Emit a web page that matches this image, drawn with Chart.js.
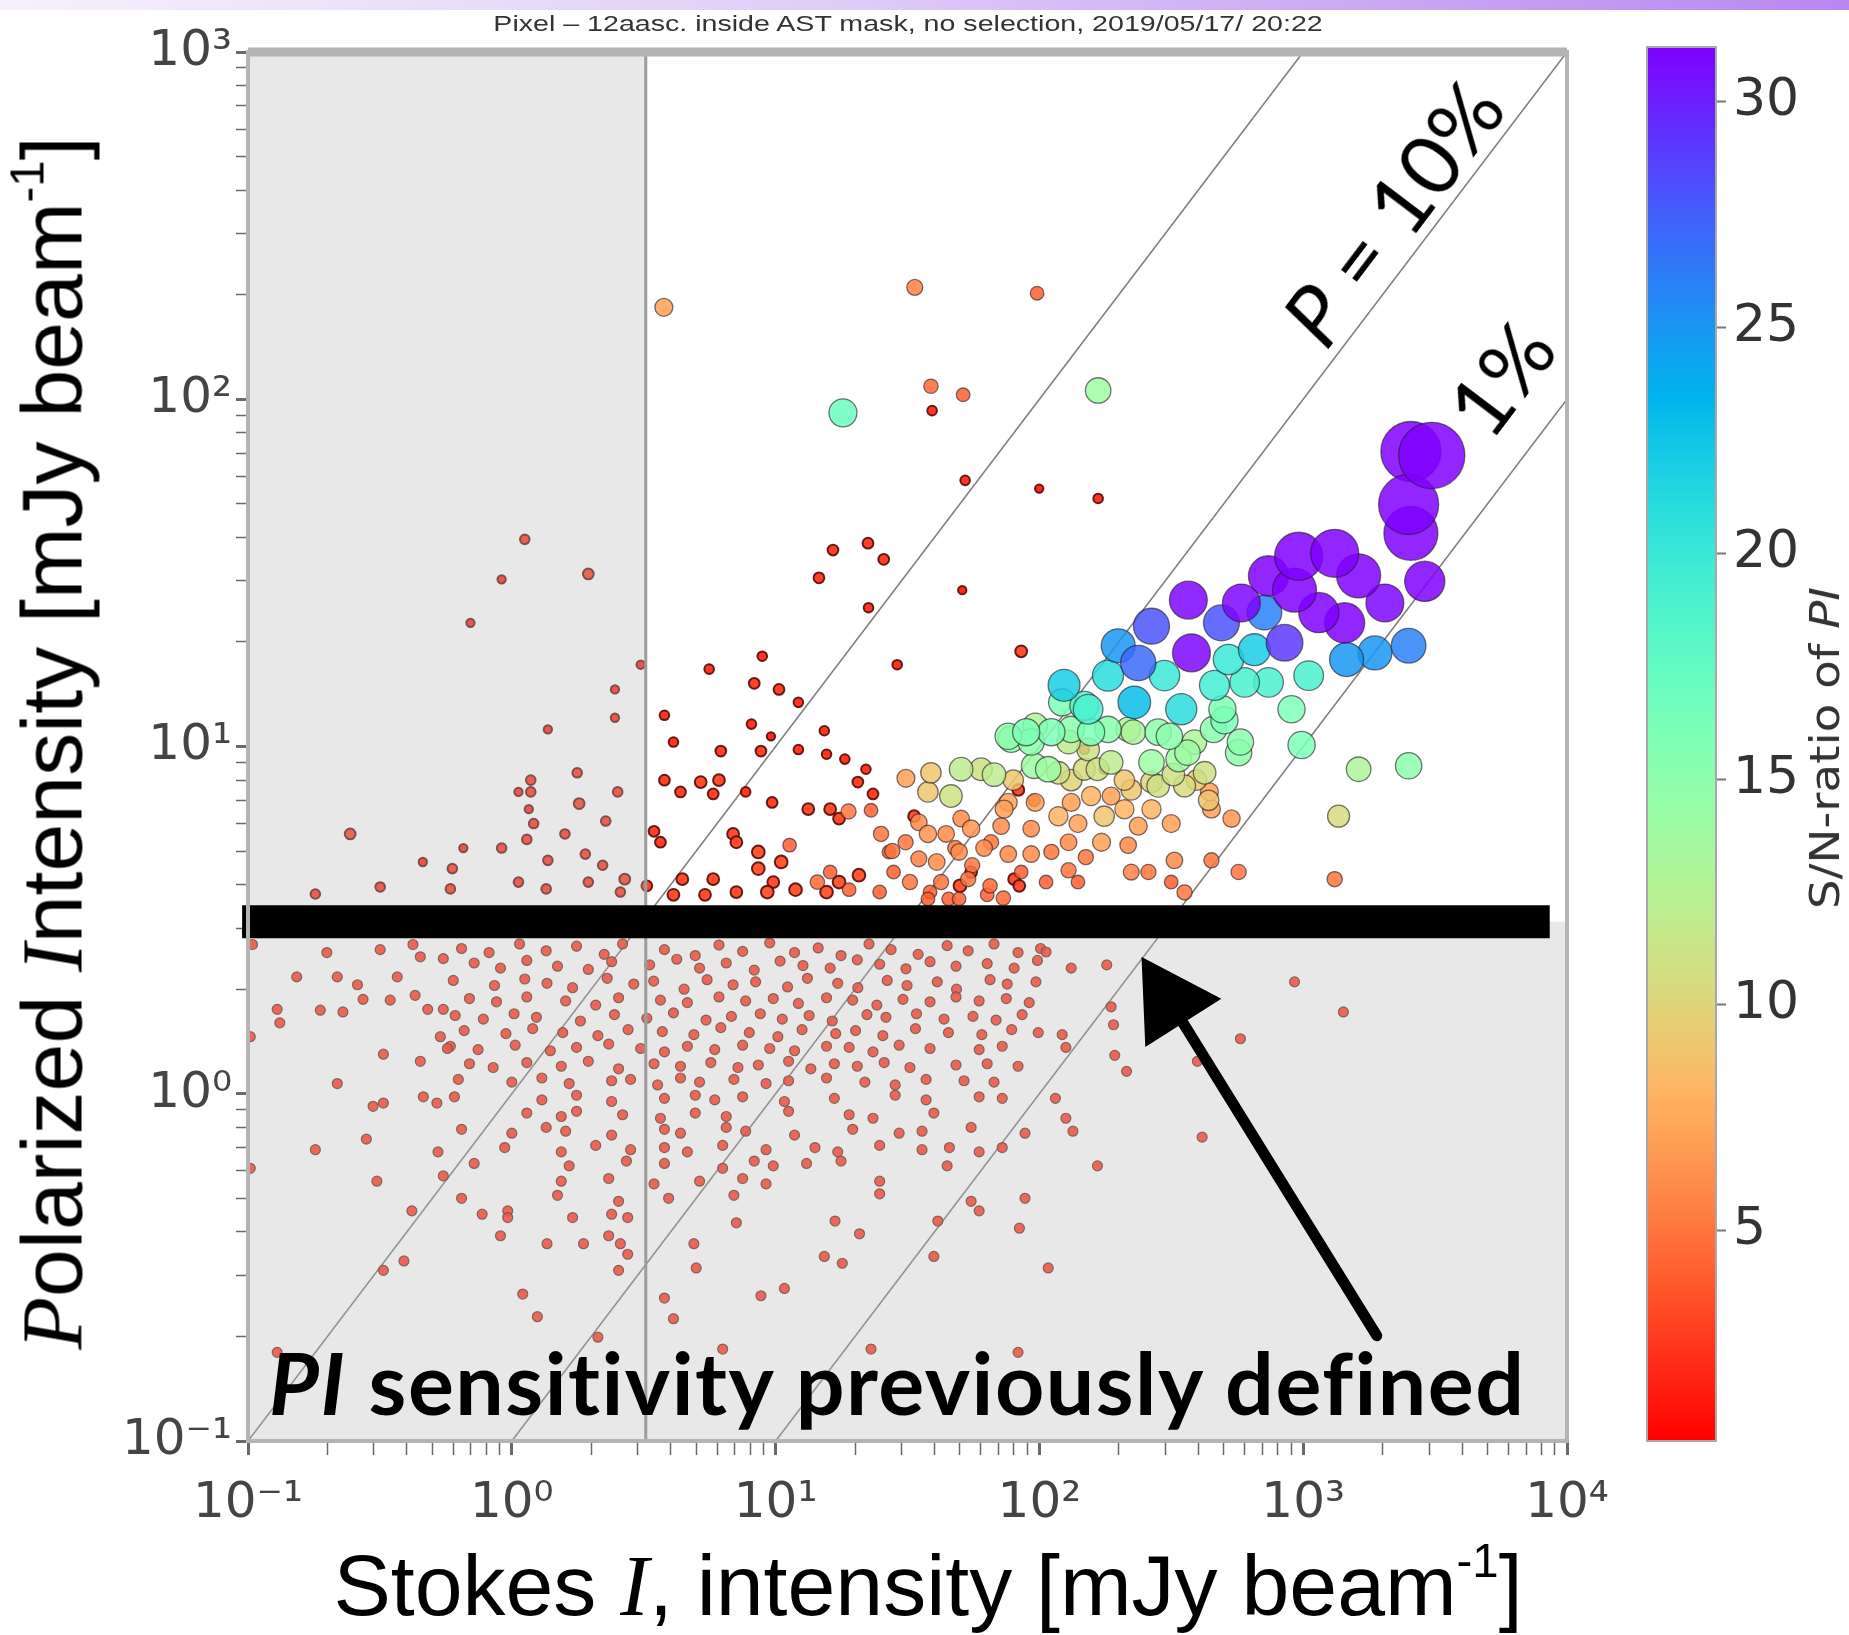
<!DOCTYPE html>
<html>
<head>
<meta charset="utf-8">
<title>Polarized intensity vs Stokes I</title>
<script src="https://cdn.jsdelivr.net/npm/chart.js@4.4.1/dist/chart.umd.min.js"></script>
<style>
  html, body { margin: 0; padding: 0; background: #fff; }
  body { width: 1849px; height: 1635px; position: relative; overflow: hidden; font-family: 'Liberation Sans', Arial, sans-serif; }
  .topbar { position: absolute; left: 0; top: 0; width: 1849px; height: 10px;
            background: linear-gradient(90deg, #f6f1fc 0%, #dfcdf7 45%, #b987f1 100%); }
  #main { position: absolute; left: 0; top: 0; width: 1619px; height: 1545px; }
  #cbar { position: absolute; left: 1600px; top: 0; width: 249px; height: 1545px; }
  .lbl { position: absolute; white-space: nowrap; line-height: 1; color: #000; }
  .serif { font-family: 'Liberation Serif', 'Times New Roman', serif; font-style: italic; }
  sup { font-size: 0.55em; vertical-align: 0.8em; line-height: 0; }
  #title { left: 908px; top: 24px; font-size: 22px; color: #333; transform: translate(-50%, -50%) scaleX(1.3); }
  #ytitle { left: 52px; top: 743px; font-size: 86px; transform: translate(-50%, -50%) rotate(-90deg); }
  #xtitle { left: 928px; top: 1585px; font-size: 86px; transform: translate(-50%, -50%); }
  #cbtitle { left: 1825px; top: 748px; font-size: 40px; color: #333; font-family: 'DejaVu Sans', sans-serif;
             transform: translate(-50%, -50%) rotate(-90deg) scaleX(1.17); }
  .pct { font-family: Lato, 'Noto Sans', sans-serif; font-weight: 400; font-size: 84px;
         transform: translate(-50%, -50%) rotate(-52.9deg); }
  #p10 { left: 1392px; top: 212px; }
  #p1 { left: 1500px; top: 378px; }
  #note { left: 269px; top: 1339px; font-family: Lato, 'Noto Sans', sans-serif; font-weight: 700; font-size: 86px; letter-spacing: 1.5px; }
</style>
</head>
<body>
<div class="topbar"></div>
<div id="main"><canvas id="scatterChart"></canvas></div>
<div id="cbar"><canvas id="colorBar"></canvas></div>

<div class="lbl" id="title">Pixel – 12aasc. inside AST mask, no selection, 2019/05/17/ 20:22</div>
<div class="lbl" id="ytitle"><span class="serif">P</span>olarized <span class="serif">I</span>ntensity [mJy beam<sup>-1</sup>]</div>
<div class="lbl" id="xtitle">Stokes <span class="serif">I</span>, intensity [mJy beam<sup>-1</sup>]</div>
<div class="lbl" id="cbtitle">S/N-ratio of <i>PI</i></div>
<div class="lbl pct" id="p10"><i>P</i> = 10%</div>
<div class="lbl pct" id="p1">1%</div>
<div class="lbl" id="note"><i>PI</i> sensitivity previously defined</div>

<script>
// axes
var decades = [0.1, 1, 10, 100, 1000, 10000];
var decadeLabels = ['10\u207B\u00B9', '10\u2070', '10\u00B9', '10\u00B2', '10\u00B3', '10\u2074'];
var cbTicks = [5, 10, 15, 20, 25, 30];
var snMin = 0.35, snMax = 31.2;
var cutI = 3.22, cutPI = 3.13;      // grey "no selection" limits
var pLines = [1, 0.1, 0.01];        // lines of constant P

// bright cluster (I, PI in mJy/beam, S/N of PI)
var clusterI = [3070, 2560, 2510, 2560, 2890, 2510, 1870, 1460, 2040, 1435, 1146, 961, 1316, 1622, 927, 739, 850, 713, 583, 490, 367, 266, 377, 199, 237,
  124, 182, 229, 298, 345, 461, 521, 653, 739, 1049, 903, 986, 600,
  148, 157, 182, 78.2, 93.1, 111, 129, 217, 282, 387, 503, 569, 337, 266, 1622, 2510, 1362, 50.5, 67.3, 95.5, 118, 148, 187, 223, 282, 355, 438, 423, 46.2,
  83.2, 95.5, 148, 176,
  76.2, 118, 157, 140, 176, 210, 266, 237, 316, 535, 449, 217, 172, 129, 93.1, 71.6, 55.1, 48, 61.7, 76.2, 93.1, 129, 223, 259, 325, 449, 569, 1316, 355, 140, 80.2, 55.1];
var clusterPI = [68.9, 70.7, 49.8, 41.1, 29.9, 19.5, 18.6, 17.8, 25.9, 22.7, 24.3, 35.3, 36.0, 31.0, 28.2, 31.0, 19.9, 24.3, 25.9, 22.7, 26.4, 22.2, 18.6, 19.5, 17.4,
  15.0, 16.0, 13.4, 16.0, 12.8, 15.0, 17.8, 19.0, 15.3, 16.0, 12.8, 10.1, 15.3,
  13.1, 11.0, 11.2, 10.5, 10.3, 11.0, 10.3, 11.2, 11.0, 10.3, 11.9, 9.6, 9.2, 9.0, 8.6, 8.8, 6.3, 8.6, 8.3, 8.8, 8.4, 8.6, 9.0, 7.5, 7.7, 7.7, 7.0, 8.4, 7.2,
  7.5, 7.0, 9.8, 8.6,
  6.9, 6.3, 7.2, 6.0, 6.3, 6.6, 6.6, 5.9, 6.0, 6.2, 6.6, 5.2, 5.3, 5.3, 5.8, 5.9, 5.8, 5.1, 5.1, 4.9, 4.9, 4.4, 4.35, 4.35, 4.7, 4.7, 4.35, 4.15, 3.8, 4.07, 4.15, 4.35];
var clusterSN = [95, 78, 78, 63, 35, 26, 25, 25, 31, 35, 35, 50, 50, 42, 42, 35, 29, 26, 31, 28, 31, 28, 31, 25, 27,
  22, 21, 23, 20, 21, 19.5, 20, 22, 19, 19, 16, 16, 19,
  18, 16, 15, 15, 15, 16, 12, 13, 15, 13, 16, 15, 14, 14, 13, 15, 10.5, 12, 12, 14, 11, 10.5, 12, 9, 11, 10.5, 9, 11, 11,
  3, 3, 2, 2,
  7, 8, 8, 7, 9, 8, 8, 7, 7, 6.5, 7, 6, 7, 6, 6, 6, 6.5, 5, 6, 6, 6, 5, 5.5, 5, 6, 5, 5, 5, 5, 4, 3, 3];

// more of the green / yellow / orange part of the cluster
var cluster2I = [76.2, 89.1, 132, 153, 227, 311, 364, 457, 494, 578, 153, 122, 96.4,
  60.1, 79.6, 108, 132, 166, 210, 266, 322, 394, 441, 187, 132, 96.4, 73.5,
  25.1, 50.5, 65.6, 85.3, 106, 111, 150, 316];
var cluster2PI = [10.7, 11.0, 11.2, 9.8, 11.0, 10.7, 9.6, 11.2, 12.8, 10.3, 12.8, 13.4, 11.5,
  8.6, 8.0, 8.6, 8.0, 8.6, 8.0, 7.9, 8.3, 8.0, 7.4, 7.2, 6.9, 6.9, 6.6,
  5.6, 6.2, 5.3, 4.35, 4.07, 4.97, 4.8, 4.07];
var cluster2SN = [15, 16, 15, 11, 13, 15, 14, 15, 16, 15, 19, 16, 13,
  11, 9, 14, 10, 11, 9, 10, 11, 9, 7, 7, 7, 7, 7,
  5, 6, 5, 4, 4, 5, 5, 4];

// isolated sources high up
var upperI = [3.77, 33.7, 98, 18.0, 167, 38.8, 51.4, 39.2];
var upperPI = [184, 210, 202, 91.4, 106, 109, 103, 92.7];
var upperSN = [7, 5.5, 4, 17, 14, 4.5, 4, 2];

// faint sources above the cut
var faintI = [52.3, 99.8, 167, 51, 85.3, 16.5, 22.4, 25.7, 14.6, 22.5, 28.9,
  3.79, 4.1, 5.6, 6.2, 8.9, 8.3, 10.3, 12.2, 8.8, 12.2, 15.3, 15.6, 18.3, 20.5, 22.0,
  3.79, 4.36, 5.2, 6.1, 5.8, 7.7, 9.7, 13.3, 16.1, 18.9, 23.0,
  8.1, 9.6, 23.4, 17.4];
var faintPI = [58.4, 55.3, 51.8, 28.2, 18.8, 36.8, 38.5, 34.6, 30.6, 25.1, 17.2,
  12.3, 10.3, 16.7, 9.7, 18.2, 15.2, 14.6, 13.4, 9.7, 9.8, 11.1, 9.5, 9.2, 7.9, 8.6,
  8.0, 7.4, 7.9, 8.0, 7.3, 7.4, 6.9, 6.6, 6.6, 6.5, 6.55,
  11.6, 10.7, 7.3, 6.2];
var faintSN = [2, 1.5, 2, 1.5, 3, 2.5, 2.5, 2.5, 2.5, 2, 2,
  2, 2, 2, 2.5, 2, 2.5, 2.5, 2, 2.5, 2, 2, 2, 2, 2.5, 2,
  2.5, 2.5, 3, 3, 2.5, 2, 2.5, 3, 3, 5, 4,
  2, 1.5, 2.5, 3];

// sources just above the cut
var nearI = [3.46, 3.66, 4.43, 5.8, 6.9, 7.1, 8.6, 8.6, 11.3, 10.5, 16.1, 14.4, 20.7, 26.9, 28.0, 4.1, 5.4, 7.1, 9.3, 11.9, 15.6, 19.0, 24.8,
  9.8, 17.4, 32.3, 38.5, 50.0, 83.9, 45.3, 63.4,
  34.9, 37.8, 31.1, 44.3, 34.9, 40.8, 49.6, 55.6, 42.4, 53.7, 65.0, 37.8, 49.6, 33.5, 37.8, 27.7, 73, 31.2, 38.8];
var nearPI = [5.7, 5.3, 4.15, 4.15, 5.6, 5.3, 4.97, 4.45, 5.2, 4.65, 4.35, 4.07, 4.26, 4.97, 4.35, 3.74, 3.74, 3.81, 3.81, 3.87, 3.81, 3.87, 3.81,
  4.07, 4.07, 4.07, 3.81, 3.97, 3.97, 3.64, 3.74,
  6.05, 5.6, 5.3, 5.6, 4.75, 4.65, 4.97, 4.55, 4.07, 4.15, 3.97, 3.64, 3.64, 6.3, 7.4, 5.0, 3.66, 8.1, 8.4];
var nearSN = [2.5, 2.5, 3, 3, 3, 3, 3.5, 3.5, 4, 3.5, 4, 4.5, 3.5, 4, 4, 3, 3, 3, 3.5, 3.5, 3.5, 4, 4,
  3, 3.5, 5, 4, 3.5, 3, 4, 4,
  6, 6.5, 5, 6, 5.5, 6, 6, 5, 5, 5, 4.5, 4, 4, 3, 9, 5, 4.5, 7, 9];

// faint sources left of the I cut
var greyI = [1.12, 0.915, 1.95, 0.697, 3.08, 2.46, 2.46, 1.37, 1.18, 1.18, 1.06, 1.77, 1.80, 2.52, 2.27, 1.16, 1.21, 1.59, 1.14, 0.244,
  0.655, 0.915, 0.46, 0.595, 1.37, 1.90, 2.21, 1.06, 1.35, 0.585, 1.95, 0.18, 3.25, 2.68, 2.58, 0.317];
var greyPI = [39.5, 30.3, 31.4, 22.7, 17.2, 14.6, 12.1, 11.2, 8.0, 7.4, 7.4, 8.4, 6.85, 7.4, 6.1, 6.6, 6.0, 5.6, 5.4, 5.6,
  5.1, 5.1, 4.65, 4.45, 4.7, 4.9, 4.55, 4.07, 3.89, 3.89, 4.07, 3.76, 3.97, 4.15, 3.81, 3.94];
var greySN = [2, 1.5, 2.5, 1.5, 1.5, 1.5, 1.5, 1.5, 2, 2, 1.5, 2, 2.5, 2, 2, 1.5, 2, 2, 2, 2.5,
  1.5, 2, 1.5, 2, 2, 2, 2, 2, 2, 2, 2, 2, 2.5, 2.5, 2, 2];

// pixels below the PI cut
var cloudI = [
  0.645, 0.82, 1.07, 1.35, 1.76, 2.24, 2.63, 3.79, 4.96, 6.1, 7.5, 9.5, 11.8, 14.5, 17.7, 22.6, 27.4, 34.7, 44.7, 53.7, 67.3, 83, 101,
  0.72, 0.906, 1.14, 1.49, 1.95, 2.39, 3.33, 4.22, 5.15, 6.5, 8.3, 10.4, 12.7, 16.1, 20.4, 24.8, 31.2, 38.5, 48.3, 63.4, 80.2, 98.3,
  0.6, 0.86, 1.12, 1.36, 1.7, 2.3, 2.9, 3.45, 4.5, 5.5, 6.9, 8.4, 11.1, 13.2, 17.2, 20.5, 26.5, 31.5, 41, 48.5, 65, 75.5, 97,
  0.691, 0.875, 1.14, 1.60, 2.08, 2.54, 3.66, 4.63, 6.1, 7.7, 9.8, 12.2, 15.6, 19.6, 24.2, 30.4, 38.5, 48.3, 59.1, 74.9, 91.5,
  0.61, 0.78, 1.02, 1.24, 1.82, 2.45, 3.25, 4.1, 5.45, 6.8, 8.75, 10.6, 13.4, 16.4, 22.2, 26.2, 34.2, 43.5, 56, 68.5, 86,
  0.66, 0.95, 1.2, 1.56, 2.12, 2.76, 3.72, 4.9, 6.2, 7.95, 10.2, 12.6, 16.9, 20.1, 25.5, 33.9, 45.2, 60.5, 78.5, 99,
  0.585, 0.745, 1.03, 1.40, 1.76, 2.33, 3.08, 3.79, 4.63, 5.88, 7.5, 9.5, 11.8, 15.6, 19.0, 23.4, 29.4, 38.5, 59.1, 72.3,
  0.691, 0.85, 1.14, 1.54, 1.95, 2.54, 3.46, 4.36, 5.68, 7.2, 8.6, 11.2, 13.6, 16.7, 20.4, 25.8, 32.3, 48.3, 63.4, 83,
  0.627, 1.0, 1.30, 1.65, 2.39, 2.82, 3.57, 4.36, 5.15, 6.95, 9.2, 11.2, 15.6, 21.8, 28.4, 37.2, 51.8, 67.3,
  0.606, 1.30, 1.76, 2.39, 3.79, 4.96, 5.88, 7.5, 10.8, 16.7, 28.4, 37.2, 59.1, 72.3,
  1.14, 1.54, 1.76, 2.63, 3.66, 4.96, 6.5, 11.2, 19.0, 23.4, 39.8,
  0.645, 1.0, 1.35, 1.60, 2.39, 3.79, 4.36, 6.5, 7.7, 11.8, 19.6, 29.4, 35.9, 55.1, 88.2,
  0.94, 1.54, 2.08, 2.82, 3.79, 4.63, 6.3, 9.2, 14.1, 17.2, 24.8, 35.9, 45.6, 59.1, 72.3,
  0.72, 1.65, 2.72, 3.79, 6.3, 8.3, 9.8, 13.1, 17.7, 44.7,
  1.54, 2.33, 3.46, 5.15, 7.5, 9.2, 24.8,
  0.645, 1.49, 2.54, 3.93, 6.95, 55.1, 88.2,
  0.772, 0.965, 1.70, 2.39, 59.1];
var cloudPI = [
  2.62, 2.55, 2.7, 2.58, 2.66, 2.52, 2.7, 2.6, 2.5, 2.68, 2.57, 2.72, 2.55, 2.63, 2.5, 2.7, 2.6, 2.52, 2.67, 2.58, 2.7, 2.55, 2.62,
  2.38, 2.3, 2.42, 2.33, 2.28, 2.4, 2.35, 2.44, 2.3, 2.38, 2.27, 2.41, 2.34, 2.3, 2.43, 2.36, 2.29, 2.4, 2.33, 2.37, 2.3, 2.42,
  2.12, 2.05, 2.14, 2.08, 2.02, 2.15, 2.07, 2.11, 2.0, 2.13, 2.06, 2.1, 2.03, 2.15, 2.08, 2.02, 2.12, 2.05, 2.1, 2.0, 2.13, 2.07, 2.1,
  1.88, 1.84, 1.9, 1.85, 1.8, 1.89, 1.86, 1.83, 1.9, 1.85, 1.88, 1.82, 1.89, 1.86, 1.8, 1.87, 1.84, 1.9, 1.85, 1.88, 1.83,
  1.68, 1.64, 1.7, 1.66, 1.62, 1.69, 1.65, 1.71, 1.63, 1.67, 1.7, 1.64, 1.68, 1.62, 1.69, 1.66, 1.7, 1.64, 1.67, 1.63, 1.69,
  1.52, 1.49, 1.54, 1.5, 1.47, 1.53, 1.51, 1.48, 1.55, 1.5, 1.46, 1.53, 1.49, 1.52, 1.47, 1.54, 1.5, 1.48, 1.53, 1.5,
  1.37, 1.34, 1.38, 1.33, 1.36, 1.39, 1.35, 1.32, 1.37, 1.34, 1.38, 1.35, 1.33, 1.37, 1.36, 1.32, 1.38, 1.35, 1.34, 1.37,
  1.22, 1.19, 1.23, 1.2, 1.24, 1.18, 1.22, 1.2, 1.23, 1.19, 1.21, 1.24, 1.18, 1.22, 1.2, 1.23, 1.19, 1.21, 1.22, 1.2,
  1.1, 1.08, 1.11, 1.07, 1.09, 1.1, 1.06, 1.11, 1.08, 1.1, 1.07, 1.09, 1.11, 1.08, 1.06, 1.1, 1.09, 1.08,
  0.98, 0.96, 0.99, 0.95, 0.97, 0.99, 0.96, 0.98, 0.95, 0.97, 0.99, 0.96, 0.98, 0.97,
  0.88, 0.86, 0.89, 0.87, 0.85, 0.88, 0.86, 0.89, 0.87, 0.85, 0.88,
  0.79, 0.77, 0.8, 0.78, 0.76, 0.79, 0.77, 0.8, 0.78, 0.76, 0.79, 0.77, 0.78, 0.8, 0.77,
  0.7, 0.68, 0.71, 0.69, 0.7, 0.68, 0.71, 0.69, 0.7, 0.68, 0.71, 0.69, 0.7, 0.68, 0.7,
  0.63, 0.62, 0.64, 0.63, 0.61, 0.64, 0.62, 0.63, 0.64, 0.62,
  0.56, 0.57, 0.55, 0.56, 0.57, 0.55, 0.56,
  0.5, 0.51, 0.49, 0.5, 0.51, 0.49, 0.5,
  0.45, 0.46, 0.44, 0.45, 0.46];
var cloudLeftI = [0.104, 0.199, 0.153, 0.218, 0.26, 0.368, 0.317, 0.422, 0.45, 0.55,
  0.129, 0.188, 0.229, 0.273, 0.346, 0.43, 0.48, 0.55,
  0.132, 0.536, 0.102, 0.326, 0.45, 0.57,
  0.218, 0.298, 0.326, 0.462, 0.52,
  0.18, 0.281, 0.525, 0.308, 0.55, 0.102, 0.418,
  0.326, 0.39, 0.129];
var cloudLeftPI = [2.69, 2.55, 2.17, 2.17, 2.06, 2.17, 2.6, 2.69, 2.48, 2.45,
  1.75, 1.74, 1.72, 1.87, 1.86, 1.92, 1.75, 1.75,
  1.6, 1.46, 1.46, 1.3, 1.24, 1.35,
  1.07, 0.92, 0.94, 0.98, 0.94,
  0.69, 0.74, 0.68, 0.56, 0.58, 0.61, 0.46,
  0.31, 0.33, 0.18];
var cloudLowI = [0.965, 0.906, 1.87, 2.33, 2.58, 1.36, 2.75, 2.54, 1.1, 1.25, 2.12, 2.75,
  3.79, 4.1, 4.9, 5.0, 6.3, 8.8, 10.8, 15.3, 17.9, 23.0, 24.8, 20.8, 16.8, 7.1];
var cloudLowPI = [0.44, 0.39, 0.37, 0.39, 0.37, 0.37, 0.345, 0.31, 0.265, 0.228, 0.199, 0.44,
  0.258, 0.225, 0.37, 0.315, 0.184, 0.262, 0.275, 0.34, 0.325, 0.184, 0.515, 0.395, 0.43, 0.425];
var cloudRightI = [122, 126, 191, 193, 214, 115, 126, 134, 166, 84, 41.2, 39.8, 108, 83, 397, 578, 414, 1420, 187, 106, 132, 180, 927];
var cloudRightPI = [1.48, 1.36, 1.58, 1.29, 1.16, 0.97, 0.85, 0.78, 0.62, 0.41, 0.43, 0.34, 0.315, 0.18, 1.24, 1.44, 0.75, 1.72, 1.78, 2.56, 2.3, 2.35, 2.1];

// hand-drawn annotation: scribbled cut line and arrow
var bandI = [0.095, 8600];
var arrowI = [1900, 311];
var arrowPI = [0.201, 1.85];

// rainbow_r colour map on S/N
function snColor(sn, alpha) {
  var t = Math.min(1, Math.max(0, (sn - snMin) / (snMax - snMin)));
  var x = 1 - t;
  var r = Math.min(1, Math.abs(2 * x - 0.5));
  var g = Math.sin(Math.PI * x);
  var b = Math.cos(Math.PI * x / 2);
  return 'rgba(' + Math.round(255 * r) + ',' + Math.round(255 * g) + ',' + Math.round(255 * b) + ',' + alpha + ')';
}

function pts(xs, ys, sn) {
  return xs.map(function (x, i) { return {x: x, y: ys[i], sn: sn ? sn[i] : 2}; });
}

var sources = [].concat(
  pts(clusterI, clusterPI, clusterSN), pts(cluster2I, cluster2PI, cluster2SN), pts(upperI, upperPI, upperSN),
  pts(faintI, faintPI, faintSN), pts(nearI, nearPI, nearSN), pts(greyI, greyPI, greySN)
).sort(function (a, b) { return a.sn - b.sn; });
var cloud = [].concat(pts(cloudI, cloudPI), pts(cloudLeftI, cloudLeftPI), pts(cloudLowI, cloudLowPI), pts(cloudRightI, cloudRightPI));

var diagSets = pLines.map(function (p) {
  var xEnd = Math.min(1e4, 1e3 / p);
  return {
    label: 'P=' + p, showLine: true, order: 6,
    data: [{x: 0.1 / p, y: 0.1}, {x: xEnd, y: p * xEnd}],
    borderColor: 'rgba(95,95,95,0.8)', borderWidth: 1.6, pointRadius: 0
  };
});

function logTicks(list) {
  var out = [];
  for (var k = 0; k < list.length; k++) {
    out.push({value: list[k], major: true});
    if (k < list.length - 1) {
      for (var m = 2; m < 10; m++) out.push({value: list[k] * m, major: false});
    }
  }
  return out;
}

var tickFont = {family: "'DejaVu Sans', sans-serif", size: 50};

// grey shading of the unselected area, drawn over the points
var shadePlugin = {
  id: 'shade',
  afterDatasetDraw: function (chart, args) {
    if (chart.data.datasets[args.index].label !== 'sources') return;
    var ctx = chart.ctx, a = chart.chartArea;
    var xc = chart.scales.x.getPixelForValue(cutI);
    var yc = chart.scales.y.getPixelForValue(cutPI);
    ctx.save();
    ctx.fillStyle = 'rgba(186,186,186,0.33)';
    ctx.fillRect(a.left, a.top, xc - a.left, yc - a.top);
    ctx.fillRect(a.left, yc, a.right - a.left, a.bottom - yc);
    ctx.restore();
  }
};

var framePlugin = {
  id: 'frame',
  afterDatasetsDraw: function (chart) {
    var ctx = chart.ctx, a = chart.chartArea;
    ctx.save();
    ctx.strokeStyle = '#b4b4b4';
    ctx.lineWidth = 4;
    ctx.strokeRect(a.left, a.top, a.right - a.left, a.bottom - a.top);
    ctx.lineWidth = 9;
    ctx.beginPath(); ctx.moveTo(a.left, a.top); ctx.lineTo(a.right, a.top); ctx.stroke();
    ctx.restore();
  }
};

new Chart(document.getElementById('scatterChart'), {
  type: 'scatter',
  data: {
    datasets: diagSets.concat([
      {
        label: 'cloud', order: 5, data: cloud,
        pointRadius: 5, pointBackgroundColor: snColor(2, 0.9),
        pointBorderColor: 'rgba(80,30,25,0.8)', pointBorderWidth: 1.2
      },
      {
        label: 'sources', order: 4, data: sources,
        pointRadius: function (c) { return 3.4 * Math.sqrt(c.raw.sn); },
        pointBackgroundColor: function (c) { return snColor(c.raw.sn, c.raw.sn < 4 ? 0.95 : 0.85); },
        pointBorderColor: function (c) { return c.raw.sn < 4 ? 'rgba(90,10,10,0.9)' : 'rgba(35,25,35,0.6)'; },
        pointBorderWidth: function (c) { return c.raw.sn < 4 ? 2 : 1.3; }
      },
      {
        label: 'cutI', order: 3, showLine: true, pointRadius: 0,
        data: [{x: cutI, y: 0.1}, {x: cutI, y: 1000}],
        borderColor: '#9c9c9c', borderWidth: 3
      },
      {
        label: 'band', order: 2, showLine: true, pointRadius: 0, clip: false,
        data: bandI.map(function (x) { return {x: x, y: cutPI}; }),
        borderColor: '#000', borderWidth: 33
      },
      {
        label: 'bandEdge', order: 2, showLine: true, pointRadius: 0, clip: false,
        data: bandI.map(function (x) { return {x: x, y: cutPI / 1.07}; }),
        borderColor: '#000', borderWidth: 6, borderDash: [4, 7]
      },
      {
        label: 'arrow', order: 1, showLine: true, pointRadius: 0,
        data: pts(arrowI, arrowPI),
        borderColor: '#000', borderWidth: 11, borderCapStyle: 'round'
      },
      {
        label: 'arrowhead', order: 0,
        data: [{x: arrowI[1], y: arrowPI[1]}],
        pointStyle: 'triangle', pointRadius: 50, pointRotation: -32.4,
        pointBackgroundColor: '#000', pointBorderColor: '#000', pointBorderWidth: 2
      }
    ])
  },
  options: {
    responsive: true, maintainAspectRatio: false, animation: false, events: [],
    layout: {padding: {left: 0, top: 35, right: 35, bottom: 0}},
    plugins: {legend: {display: false}, tooltip: {enabled: false}},
    scales: {
      x: {
        type: 'logarithmic', position: 'bottom', min: 0.1, max: 10000,
        afterBuildTicks: function (s) { s.ticks = logTicks(decades); },
        afterFit: function (s) { s.height = 104; s.paddingLeft = 0; s.paddingRight = 0; },
        border: {display: false},
        grid: {
          drawOnChartArea: false, tickLength: 14, tickColor: '#6a6a6a',
          tickWidth: function (c) { return c.tick && c.tick.major ? 3 : 1.5; }
        },
        ticks: {
          autoSkip: false, maxRotation: 0, padding: 19, color: '#444', font: tickFont,
          callback: function (v) { var k = decades.indexOf(v); return k >= 0 ? decadeLabels[k] : ''; }
        }
      },
      y: {
        type: 'logarithmic', position: 'left', min: 0.1, max: 1000,
        afterBuildTicks: function (s) { s.ticks = logTicks(decades.slice(0, 5)); },
        afterFit: function (s) { s.width = 248; s.paddingTop = 0; s.paddingBottom = 0; },
        border: {display: false},
        grid: {
          drawOnChartArea: false, tickLength: 12, tickColor: '#6a6a6a',
          tickWidth: function (c) { return c.tick && c.tick.major ? 3 : 1.5; }
        },
        ticks: {
          autoSkip: false, padding: 4, color: '#444', font: tickFont,
          callback: function (v) { var k = decades.indexOf(v); return k >= 0 ? decadeLabels[k] : ''; }
        }
      }
    }
  },
  plugins: [shadePlugin, framePlugin]
});

// colour bar
var barFill = {
  id: 'barFill',
  beforeDatasetsDraw: function (chart) {
    var ctx = chart.ctx, a = chart.chartArea;
    var g = ctx.createLinearGradient(0, a.bottom, 0, a.top);
    for (var k = 0; k <= 24; k++) {
      g.addColorStop(k / 24, snColor(snMin + (snMax - snMin) * k / 24, 1));
    }
    ctx.save();
    ctx.fillStyle = g;
    ctx.fillRect(a.left, a.top, a.right - a.left, a.bottom - a.top);
    ctx.strokeStyle = '#a8a8a8';
    ctx.lineWidth = 2;
    ctx.strokeRect(a.left, a.top, a.right - a.left, a.bottom - a.top);
    ctx.restore();
  }
};

new Chart(document.getElementById('colorBar'), {
  type: 'scatter',
  data: {datasets: []},
  options: {
    responsive: true, maintainAspectRatio: false, animation: false, events: [],
    layout: {padding: {left: 47, top: 47, right: 0, bottom: 104}},
    plugins: {legend: {display: false}, tooltip: {enabled: false}},
    scales: {
      x: {display: false, min: 0, max: 1},
      y: {
        position: 'right', min: snMin, max: snMax,
        afterBuildTicks: function (s) { s.ticks = cbTicks.map(function (v) { return {value: v}; }); },
        afterFit: function (s) { s.width = 133; s.paddingTop = 0; s.paddingBottom = 0; },
        border: {display: false},
        grid: {drawOnChartArea: false, tickLength: 10, tickColor: '#777', tickWidth: 2},
        ticks: {padding: 7, color: '#333', font: {family: "'DejaVu Sans', sans-serif", size: 52}}
      }
    }
  },
  plugins: [barFill]
});
</script>
</body>
</html>
